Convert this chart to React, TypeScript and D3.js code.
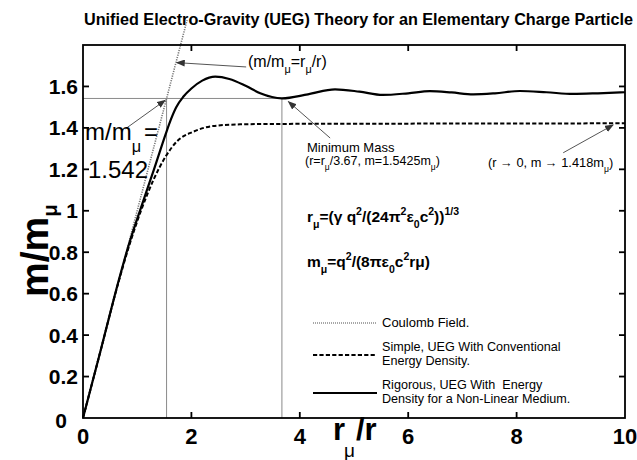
import React, { useLayoutEffect, useRef, useState } from "react";
import * as d3 from "d3";

// ---- data ----
const xTicks = [0, 2, 4, 6, 8, 10];
const yTicks = [0, 0.2, 0.4, 0.6, 0.8, 1, 1.2, 1.4, 1.6];
const yTickLabels = ["0", "0.2", "0.4", "0.6", "0.8", "1", "1.2", "1.4", "1.6"];

// Rigorous UEG (solid)
const rigX = [0, 0.3, 0.66, 0.85, 1.05, 1.31, 1.53, 1.62, 1.72, 1.85, 2.0, 2.2, 2.44, 2.7, 3.0, 3.27, 3.67, 4.15, 4.65, 5.1, 5.53, 6.0, 6.4, 6.8, 7.2, 7.6, 8.06, 8.55, 9.04, 9.5, 10];
const rigY = [0, 0.3, 0.665, 0.84, 1.0, 1.2, 1.374, 1.44, 1.5, 1.55, 1.59, 1.628, 1.647, 1.636, 1.603, 1.567, 1.5425, 1.562, 1.586, 1.575, 1.559, 1.567, 1.577, 1.571, 1.562, 1.567, 1.578, 1.572, 1.564, 1.567, 1.572];

// Simple UEG (dashed)
const simX = [0, 0.3, 0.66, 0.85, 1.07, 1.3, 1.53, 1.73, 2.04, 2.4, 2.9, 3.5, 5, 7, 10];
const simY = [0, 0.3, 0.66, 0.83, 1.0, 1.149, 1.264, 1.334, 1.382, 1.409, 1.417, 1.419, 1.42, 1.421, 1.422];

// Coulomb field m/mu = r_mu/r (dotted)
const coulX = [0, 1.92];
const coulY = [0, 1.92];

// reference markers
const minX = 3.67;
const minY = 1.5425;
const crossV = 1.542;

const TITLE = "Unified Electro-Gravity (UEG) Theory for an Elementary Charge Particle";

const W = 637, H = 460;
const M = { left: 83, right: 625, top: 45, bottom: 418 };

const FONT = "'Liberation Sans', Arial, Helvetica, sans-serif";

type Part = [string, ("sub" | "sup" | "")?, number?];

function Rich({ x, y, parts, size, weight = "normal", subOff = 0.4, supOff = -0.42, subScale = 0.68, fill = "#000" }: any) {
  let cur = 0;
  return (
    <text x={x} y={y} fontSize={size} fontWeight={weight} fontFamily={FONT} fill={fill}>
      {(parts as Part[]).map(([t, k, dx], i) => {
        const target = k === "sub" ? subOff * size : k === "sup" ? supOff * size : 0;
        const dy = target - cur;
        cur = target;
        const fs = k ? size * subScale : size;
        return (
          <tspan key={i} dy={dy} dx={dx || 0} fontSize={fs}>
            {t}
          </tspan>
        );
      })}
    </text>
  );
}

export default function App() {
  const titleRef = useRef<SVGTextElement>(null);
  const [tsx, setTsx] = useState(0.83);
  useLayoutEffect(() => {
    if (titleRef.current) {
      const w = titleRef.current.getComputedTextLength();
      if (w > 0) setTsx(549 / w);
    }
  }, []);

  const x = d3.scaleLinear().domain([0, 10]).range([M.left, M.right]);
  const y = d3.scaleLinear().domain([0, 1.8]).range([M.bottom, M.top]);

  const line = d3
    .line<[number, number]>()
    .x((d) => x(d[0]))
    .y((d) => y(d[1]))
    .curve(d3.curveMonotoneX);
  const straight = d3
    .line<[number, number]>()
    .x((d) => x(d[0]))
    .y((d) => y(d[1]));

  const rig = rigX.map((v, i) => [v, rigY[i]] as [number, number]);
  const sim = simX.map((v, i) => [v, simY[i]] as [number, number]);
  const coul = coulX.map((v, i) => [v, coulY[i]] as [number, number]);

  const arrows: [number, number, number, number][] = [
    [3.01, 1.694, 1.73, 1.715],
    [0.78, 1.395, 1.515, 1.533],
    [4.56, 1.351, 3.79, 1.527],
    [8.86, 1.28, 9.78, 1.414],
  ];

  const inner = [2, 4, 6, 8];
  const innerY = yTicks.filter((v) => v > 0);
  const tl = 6;

  return (
    <div style={{ position: "fixed", left: 0, top: 0 }}>
      <svg width={W} height={H} viewBox={`0 0 ${W} ${H}`} style={{ display: "block", background: "#fff" }}>
        <defs>
          <marker id="ah" markerUnits="userSpaceOnUse" markerWidth="9" markerHeight="7" refX="8" refY="3.5" orient="auto">
            <path d="M0,0 L9,3.5 L0,7 Z" fill="#333" />
          </marker>
        </defs>
        <rect x={0} y={0} width={W} height={H} fill="#fff" />

        {/* Title */}
        <g transform={`translate(84,25) scale(${tsx},1)`}>
          <text ref={titleRef} x={0} y={0} fontSize={17} fontWeight="bold" fontFamily={FONT}>
            {TITLE}
          </text>
        </g>

        {/* reference lines */}
        <path d={straight([[0, crossV], [minX, crossV]])!} stroke="#8a8a8a" strokeWidth={1} fill="none" />
        <path d={straight([[crossV, 0], [crossV, crossV]])!} stroke="#8a8a8a" strokeWidth={1} fill="none" />
        <path d={straight([[minX, 0], [minX, minY]])!} stroke="#8a8a8a" strokeWidth={1} fill="none" />

        {/* curves */}
        <path d={straight(coul)!} stroke="#777" strokeWidth={1.6} strokeDasharray="1.2,1.2" fill="none" />
        <path d={line(sim)!} stroke="#000" strokeWidth={2} strokeDasharray="4.2,2.2" fill="none" />
        <path d={line(rig)!} stroke="#000" strokeWidth={2.2} fill="none" />

        {/* frame */}
        <rect x={M.left} y={M.top} width={M.right - M.left} height={M.bottom - M.top} fill="none" stroke="#000" strokeWidth={1.8} />
        {inner.map((v) => (
          <g key={"xt" + v}>
            <line x1={x(v)} x2={x(v)} y1={M.bottom} y2={M.bottom - tl} stroke="#000" strokeWidth={1.8} />
            <line x1={x(v)} x2={x(v)} y1={M.top} y2={M.top + tl} stroke="#000" strokeWidth={1.8} />
          </g>
        ))}
        {innerY.map((v) => (
          <g key={"yt" + v}>
            <line x1={M.left} x2={M.left + tl} y1={y(v)} y2={y(v)} stroke="#000" strokeWidth={1.8} />
            <line x1={M.right} x2={M.right - tl} y1={y(v)} y2={y(v)} stroke="#000" strokeWidth={1.8} />
          </g>
        ))}

        {/* tick labels */}
        {xTicks.map((v) => (
          <text key={"xl" + v} x={x(v)} y={444} fontSize={22} fontWeight="bold" fontFamily={FONT} textAnchor="middle">
            {v}
          </text>
        ))}
        {yTicks.map((v, i) => (
          <text key={"yl" + v} x={v === 0 ? 67 : 78} y={y(v) + (v === 0 ? 9.5 : 7.5)} fontSize={21} fontWeight="bold" fontFamily={FONT} textAnchor="end">
            {yTickLabels[i]}
          </text>
        ))}

        {/* axis labels */}
        <text x={333} y={440} fontSize={31} fontWeight="bold" fontFamily={FONT}>r</text>
        <text x={344} y={457} fontSize={19} fontFamily={FONT}>μ</text>
        <text x={356} y={440} fontSize={31} fontWeight="bold" fontFamily={FONT}>/r</text>

        <g transform="translate(48,297) rotate(-90)">
          <Rich x={0} y={0} size={39} weight="bold" subOff={0.24} subScale={0.52} parts={[["m/m"], ["μ", "sub"]]} />
        </g>

        {/* annotations */}
        {arrows.map((a, i) => (
          <line key={"ar" + i} x1={x(a[0])} y1={y(a[1])} x2={x(a[2])} y2={y(a[3])} stroke="#555" strokeWidth={1} markerEnd="url(#ah)" />
        ))}

        <Rich x={248} y={67} size={16} parts={[["(m/m"], ["μ", "sub"], ["=r"], ["μ", "sub"], ["/r)"]]} />
        <Rich x={85} y={140} size={24} subOff={0.5} parts={[["m/m"], ["μ", "sub"], ["=", "", 3]]} />
        <text x={88} y={178} fontSize={24} fontFamily={FONT}>1.542</text>

        <text x={307} y={152} fontSize={13} fontFamily={FONT}>Minimum Mass</text>
        <Rich x={305} y={165} size={12.5} parts={[["(r=r"], ["μ", "sub"], ["/3.67, m=1.5425m"], ["μ", "sub"], [")"]]} />
        <Rich x={488} y={167} size={12.8} parts={[["(r → 0,  m → 1.418m"], ["μ", "sub"], [")"]]} />

        <Rich x={307} y={222} size={15.5} weight="bold" parts={[["r"], ["μ", "sub"], ["=(γ q"], ["2", "sup"], ["/(24π"], ["2", "sup"], ["ε"], ["0", "sub"], ["c"], ["2", "sup"], ["))"], ["1/3", "sup"]]} />
        <Rich x={307} y={267} size={15.5} weight="bold" parts={[["m"], ["μ", "sub"], ["=q"], ["2", "sup"], ["/(8πε"], ["0", "sub"], ["c"], ["2", "sup"], ["rμ)"]]} />

        {/* legend */}
        <line x1={313} x2={376} y1={323} y2={323} stroke="#8a8a8a" strokeWidth={1.3} strokeDasharray="1,1" />
        <line x1={313} x2={376} y1={355} y2={355} stroke="#000" strokeWidth={2} strokeDasharray="4.2,2.2" />
        <line x1={313} x2={377} y1={393} y2={393} stroke="#000" strokeWidth={2} />
        <text x={382} y={327} fontSize={13} fontFamily={FONT}>Coulomb Field.</text>
        <text x={382} y={351} fontSize={12.6} fontFamily={FONT}>Simple, UEG With Conventional</text>
        <text x={382} y={365} fontSize={12.6} fontFamily={FONT}>Energy Density.</text>
        <text x={382} y={389} fontSize={12.6} fontFamily={FONT} style={{ whiteSpace: "pre" }}>{"Rigorous, UEG With  Energy"}</text>
        <text x={382} y={403} fontSize={12.6} fontFamily={FONT}>Density for a Non-Linear Medium.</text>
      </svg>
    </div>
  );
}
